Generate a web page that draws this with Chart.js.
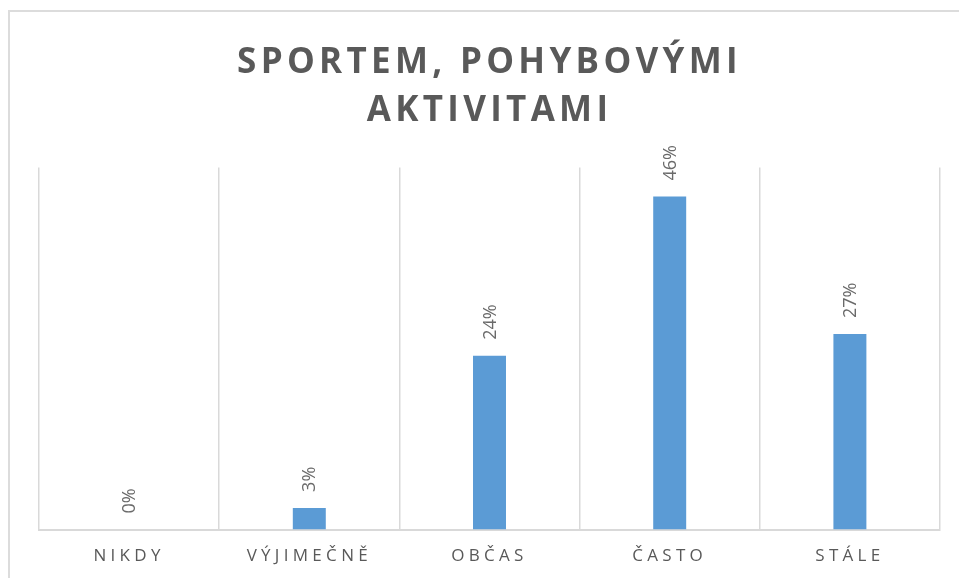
<!DOCTYPE html>
<html>
<head>
<meta charset="utf-8">
<script src="https://cdn.jsdelivr.net/npm/chart.js@4"></script>
<style>
  html, body { margin: 0; padding: 0; background: #fff; }
  #wrap { position: relative; width: 959px; height: 578px; }
  #frame { position: absolute; left: 8px; top: 10px; right: 0; bottom: 0;
           border-left: 2px solid #dcdcdc; border-top: 2px solid #dcdcdc; pointer-events: none; }
  canvas { position: absolute; left: 0; top: 0; }
</style>
</head>
<body>
<div id="wrap">
  <canvas id="c" width="959" height="578"></canvas>
  <div id="frame"></div>
</div>
<script>
const titleLines = ["SPORTEM, POHYBOVÝMI", "AKTIVITAMI"];
const categories = ["NIKDY", "VÝJIMEČNĚ", "OBČAS", "ČASTO", "STÁLE"];
const shares = [0.00, 0.03, 0.24, 0.46, 0.27];
const yMin = 0;
const yMax = 0.5;

const TEXT = '#595959';
const FONT = "'Open Sans', 'DejaVu Sans', sans-serif";

const spacingPlugin = {
  id: 'spacing',
  beforeDraw(chart) { chart.ctx.letterSpacing = '4.3px'; },
  beforeDatasetsDraw(chart) { chart.ctx.letterSpacing = '0px'; },
  afterDatasetsDraw(chart) {
    const ctx = chart.ctx;
    const meta = chart.getDatasetMeta(0);
    ctx.save();
    ctx.letterSpacing = '0px';
    ctx.fillStyle = '#6a6a6a';
    ctx.font = "18px " + FONT;
    ctx.textAlign = 'left';
    ctx.textBaseline = 'middle';
    meta.data.forEach((bar, i) => {
      const txt = Math.round(shares[i] * 100) + '%';
      ctx.save();
      ctx.translate(bar.x + 1, bar.y - 16);
      ctx.rotate(-Math.PI / 2);
      ctx.fillText(txt, 0, 0);
      ctx.restore();
    });
    ctx.restore();
    ctx.letterSpacing = '4.5px';
  }
};

new Chart(document.getElementById('c'), {
  type: 'bar',
  data: {
    labels: categories,
    datasets: [{
      data: shares,
      backgroundColor: '#5B9BD5',
      borderWidth: 0,
      barPercentage: 0.183,
      categoryPercentage: 1.0
    }]
  },
  options: {
    responsive: false,
    animation: false,
    events: [],
    layout: { padding: { left: 39, right: 19, top: 10, bottom: -4 } },
    plugins: {
      legend: { display: false },
      tooltip: { enabled: false },
      title: {
        display: true,
        text: titleLines,
        color: TEXT,
        font: { family: FONT, size: 35, weight: 'bold', lineHeight: 1.38 },
        padding: { top: 29, bottom: 32 }
      }
    },
    scales: {
      x: {
        z: 1,
        offset: true,
        grid: { display: true, offset: true, color: '#d9d9d9', lineWidth: 1.5, drawTicks: false },
        border: { display: true, color: '#d9d9d9', width: 2 },
        ticks: { color: TEXT, font: { family: FONT, size: 17 }, padding: 16, maxRotation: 0 }
      },
      y: {
        display: false,
        min: yMin,
        max: yMax
      }
    }
  },
  plugins: [spacingPlugin]
});
</script>
</body>
</html>
